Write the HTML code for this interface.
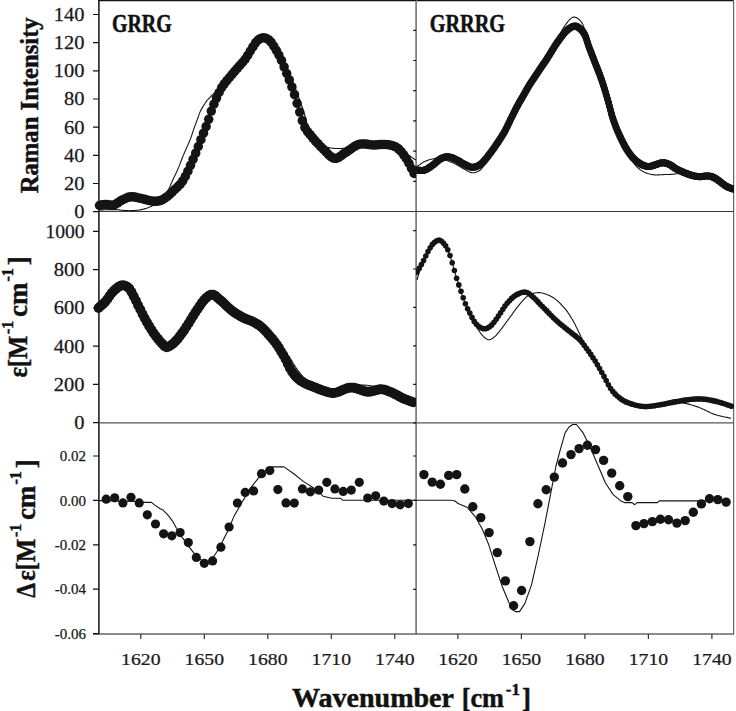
<!DOCTYPE html>
<html><head><meta charset="utf-8"><style>
html,body{margin:0;padding:0;background:#fff;}
body{width:736px;height:711px;overflow:hidden;}
svg{display:block;}
</style></head><body>
<svg width="736" height="711" viewBox="0 0 736 711">
<rect width="736" height="711" fill="#fff"/>
<line x1="98.3" y1="0.6" x2="734" y2="0.6" stroke="#111" stroke-width="1.4"/><line x1="98.9" y1="0" x2="98.9" y2="634.5" stroke="#111" stroke-width="1.5"/><line x1="416.1" y1="0" x2="416.1" y2="634.5" stroke="#7a7a7a" stroke-width="1.7"/><line x1="733.6" y1="0" x2="733.6" y2="634.5" stroke="#666" stroke-width="1.2"/><line x1="99" y1="211.5" x2="734" y2="211.5" stroke="#3a3a3a" stroke-width="1.15"/><line x1="99" y1="422.8" x2="734" y2="422.8" stroke="#555" stroke-width="1.15"/><line x1="93" y1="634" x2="734" y2="634" stroke="#666" stroke-width="1.5"/><path d="M93 211.7H99M93 183.5H99M93 155.4H99M93 127.2H99M93 99.0H99M93 70.8H99M93 42.7H99M93 14.5H99M93 422.7H99M93 384.4H99M93 346.2H99M93 307.9H99M93 269.6H99M93 231.3H99M93 633.6H99M93 589.2H99M93 544.8H99M93 500.4H99M93 456.0H99M413.2 181.3H416M413.2 151.1H416M413.2 120.9H416M413.2 90.7H416M413.2 60.5H416M413.2 30.3H416M413.2 0.1H416M413.2 422.8H416M413.2 384.4H416M413.2 345.9H416M413.2 307.4H416M413.2 269.0H416M413.2 230.6H416M413.2 456.0H416M413.2 500.3H416M413.2 544.8H416M413.2 589.3H416" stroke="#111" stroke-width="1.2" fill="none"/><path d="M140.8 634V639M204.3 634V639M267.8 634V639M331.3 634V639M394.8 634V639M457.9 634V639M521.4 634V639M584.9 634V639M648.4 634V639M711.9 634V639" stroke="#333" stroke-width="1.2" fill="none"/>
<defs><clipPath id="cTL"><rect x="94" y="0" width="322" height="212"/></clipPath><clipPath id="cTR"><rect x="416" y="0" width="318" height="212"/></clipPath><clipPath id="cML"><rect x="94" y="212" width="322" height="211"/></clipPath><clipPath id="cMR"><rect x="416" y="212" width="318" height="211"/></clipPath><clipPath id="cBL"><rect x="94" y="423" width="322" height="211"/></clipPath><clipPath id="cBR"><rect x="416" y="423" width="318" height="211"/></clipPath></defs><g clip-path="url(#cTL)" fill="#141414"><circle cx="99.5" cy="205.5" r="4.75"/><circle cx="102.1" cy="204.8" r="4.75"/><circle cx="104.7" cy="204.4" r="4.75"/><circle cx="107.3" cy="204.6" r="4.75"/><circle cx="109.9" cy="205.1" r="4.75"/><circle cx="112.5" cy="205.3" r="4.75"/><circle cx="115.1" cy="204.5" r="4.75"/><circle cx="117.7" cy="202.8" r="4.75"/><circle cx="120.3" cy="201.0" r="4.75"/><circle cx="122.9" cy="199.7" r="4.75"/><circle cx="125.5" cy="198.4" r="4.75"/><circle cx="128.1" cy="197.3" r="4.75"/><circle cx="130.7" cy="196.8" r="4.75"/><circle cx="133.3" cy="196.8" r="4.75"/><circle cx="135.9" cy="197.3" r="4.75"/><circle cx="138.5" cy="197.9" r="4.75"/><circle cx="141.1" cy="198.5" r="4.75"/><circle cx="143.7" cy="199.1" r="4.75"/><circle cx="146.3" cy="199.8" r="4.75"/><circle cx="148.9" cy="200.4" r="4.75"/><circle cx="151.5" cy="200.9" r="4.75"/><circle cx="154.1" cy="201.3" r="4.75"/><circle cx="156.7" cy="201.3" r="4.75"/><circle cx="159.3" cy="200.8" r="4.75"/><circle cx="161.9" cy="199.9" r="4.75"/><circle cx="164.5" cy="198.5" r="4.75"/><circle cx="167.1" cy="196.7" r="4.75"/><circle cx="169.7" cy="194.5" r="4.75"/><circle cx="172.3" cy="192.0" r="4.75"/><circle cx="174.9" cy="189.4" r="4.75"/><circle cx="177.5" cy="187.0" r="4.75"/><circle cx="180.1" cy="184.4" r="4.75"/><circle cx="182.7" cy="180.9" r="4.75"/><circle cx="185.3" cy="176.4" r="4.75"/><circle cx="187.9" cy="171.2" r="4.75"/><circle cx="190.5" cy="165.3" r="4.75"/><circle cx="193.1" cy="159.3" r="4.75"/><circle cx="195.7" cy="153.2" r="4.75"/><circle cx="198.3" cy="146.5" r="4.75"/><circle cx="200.9" cy="139.7" r="4.75"/><circle cx="203.5" cy="133.2" r="4.75"/><circle cx="206.1" cy="126.6" r="4.75"/><circle cx="208.7" cy="119.3" r="4.75"/><circle cx="211.3" cy="111.1" r="4.75"/><circle cx="213.9" cy="104.2" r="4.75"/><circle cx="216.5" cy="98.1" r="4.75"/><circle cx="219.1" cy="92.5" r="4.75"/><circle cx="221.7" cy="87.6" r="4.75"/><circle cx="224.3" cy="83.8" r="4.75"/><circle cx="226.9" cy="80.6" r="4.75"/><circle cx="229.5" cy="77.5" r="4.75"/><circle cx="232.1" cy="74.3" r="4.75"/><circle cx="234.7" cy="71.3" r="4.75"/><circle cx="237.3" cy="68.3" r="4.75"/><circle cx="239.9" cy="65.4" r="4.75"/><circle cx="242.5" cy="62.5" r="4.75"/><circle cx="245.1" cy="59.3" r="4.75"/><circle cx="247.7" cy="55.4" r="4.75"/><circle cx="250.3" cy="51.0" r="4.75"/><circle cx="252.9" cy="46.9" r="4.75"/><circle cx="255.5" cy="42.8" r="4.75"/><circle cx="258.1" cy="40.0" r="4.75"/><circle cx="260.7" cy="38.4" r="4.75"/><circle cx="263.3" cy="37.7" r="4.75"/><circle cx="265.9" cy="38.2" r="4.75"/><circle cx="268.5" cy="39.7" r="4.75"/><circle cx="271.1" cy="42.2" r="4.75"/><circle cx="273.7" cy="46.0" r="4.75"/><circle cx="276.3" cy="50.3" r="4.75"/><circle cx="278.9" cy="55.0" r="4.75"/><circle cx="281.5" cy="60.4" r="4.75"/><circle cx="284.1" cy="66.9" r="4.75"/><circle cx="286.7" cy="73.5" r="4.75"/><circle cx="289.3" cy="79.9" r="4.75"/><circle cx="291.9" cy="86.9" r="4.75"/><circle cx="294.5" cy="94.7" r="4.75"/><circle cx="297.1" cy="103.3" r="4.75"/><circle cx="299.7" cy="112.1" r="4.75"/><circle cx="302.3" cy="120.7" r="4.75"/><circle cx="304.9" cy="127.6" r="4.75"/><circle cx="307.5" cy="131.6" r="4.75"/><circle cx="310.1" cy="134.7" r="4.75"/><circle cx="312.7" cy="137.8" r="4.75"/><circle cx="315.3" cy="140.8" r="4.75"/><circle cx="317.9" cy="143.7" r="4.75"/><circle cx="320.5" cy="146.5" r="4.75"/><circle cx="323.1" cy="149.0" r="4.75"/><circle cx="325.7" cy="151.6" r="4.75"/><circle cx="328.3" cy="154.3" r="4.75"/><circle cx="330.9" cy="156.7" r="4.75"/><circle cx="333.5" cy="158.2" r="4.75"/><circle cx="336.1" cy="158.5" r="4.75"/><circle cx="338.7" cy="157.5" r="4.75"/><circle cx="341.3" cy="155.7" r="4.75"/><circle cx="343.9" cy="153.7" r="4.75"/><circle cx="346.5" cy="152.0" r="4.75"/><circle cx="349.1" cy="150.2" r="4.75"/><circle cx="351.7" cy="148.4" r="4.75"/><circle cx="354.3" cy="146.6" r="4.75"/><circle cx="356.9" cy="145.2" r="4.75"/><circle cx="359.5" cy="144.2" r="4.75"/><circle cx="362.1" cy="143.9" r="4.75"/><circle cx="364.7" cy="144.0" r="4.75"/><circle cx="367.3" cy="144.3" r="4.75"/><circle cx="369.9" cy="144.7" r="4.75"/><circle cx="372.5" cy="145.0" r="4.75"/><circle cx="375.1" cy="145.0" r="4.75"/><circle cx="377.7" cy="144.8" r="4.75"/><circle cx="380.3" cy="144.5" r="4.75"/><circle cx="382.9" cy="144.4" r="4.75"/><circle cx="385.5" cy="144.4" r="4.75"/><circle cx="388.1" cy="144.7" r="4.75"/><circle cx="390.7" cy="145.2" r="4.75"/><circle cx="393.3" cy="146.0" r="4.75"/><circle cx="395.9" cy="147.0" r="4.75"/><circle cx="398.5" cy="148.8" r="4.75"/><circle cx="401.1" cy="151.5" r="4.75"/><circle cx="403.7" cy="154.8" r="4.75"/><circle cx="406.3" cy="158.7" r="4.75"/><circle cx="408.9" cy="163.2" r="4.75"/><circle cx="411.5" cy="168.5" r="4.75"/><circle cx="414.1" cy="173.4" r="4.75"/></g><path clip-path="url(#cTL)" d="M99.0 210.0L100.1 210.0L101.1 209.9L102.2 209.9L103.3 209.9L104.4 209.8L105.5 209.8L106.6 209.7L107.7 209.7L108.8 209.6L109.8 209.6L110.9 209.6L111.9 209.6L112.9 209.6L113.9 209.6L114.9 209.6L115.8 209.6L117.0 209.7L118.1 209.8L119.2 209.9L120.3 210.0L121.3 210.2L122.4 210.3L123.4 210.4L124.5 210.5L125.6 210.6L126.6 210.6L127.6 210.6L128.6 210.7L129.7 210.7L130.7 210.6L131.8 210.6L132.8 210.6L133.9 210.5L134.9 210.5L135.9 210.4L136.9 210.3L137.8 210.2L139.0 210.0L140.1 209.9L141.2 209.6L142.2 209.4L143.3 209.2L144.3 208.9L145.3 208.6L146.3 208.3L147.4 207.9L148.5 207.5L149.5 207.1L150.5 206.7L151.5 206.2L152.5 205.7L153.5 205.2L154.4 204.6L155.3 204.0L156.2 203.3L157.1 202.7L158.0 202.0L158.9 201.3L159.7 200.6L160.6 199.9L161.4 199.2L162.2 198.4L163.0 197.5L163.6 196.8L164.2 196.0L164.9 195.2L165.5 194.3L166.1 193.4L166.6 192.5L167.2 191.6L167.8 190.7L168.3 189.8L168.8 188.9L169.2 188.0L169.6 187.1L170.1 186.2L170.5 185.3L170.9 184.3L171.2 183.4L171.7 182.4L172.1 181.5L172.5 180.5L172.9 179.6L173.4 178.7L173.8 177.7L174.3 176.8L174.7 175.9L175.2 174.9L175.7 174.0L176.1 173.0L176.6 172.0L177.0 171.0L177.5 170.0L177.9 169.1L178.2 168.3L178.6 167.4L179.0 166.4L179.3 165.5L179.7 164.6L180.1 163.6L180.5 162.6L180.8 161.7L181.2 160.7L181.6 159.7L182.0 158.8L182.3 157.8L182.7 156.8L183.1 155.9L183.5 154.9L183.9 154.0L184.3 153.0L184.7 152.1L185.1 151.1L185.5 150.2L186.0 149.2L186.4 148.3L186.8 147.3L187.2 146.4L187.6 145.4L188.1 144.5L188.5 143.5L188.9 142.6L189.2 141.7L189.6 140.8L190.0 140.0L190.3 139.1L190.7 138.1L191.1 137.0L191.4 136.1L191.8 135.1L192.1 134.1L192.4 133.2L192.7 132.2L193.0 131.3L193.3 130.4L193.7 129.4L194.0 128.5L194.4 127.5L194.7 126.6L195.1 125.6L195.4 124.6L195.8 123.7L196.1 122.7L196.5 121.8L196.8 120.8L197.2 119.9L197.5 119.0L197.9 118.0L198.2 116.9L198.6 115.9L199.0 114.9L199.3 113.9L199.7 112.9L200.1 111.9L200.5 111.0L201.0 109.9L201.6 108.9L202.2 107.9L202.8 106.9L203.4 105.9L204.0 105.0L204.6 104.1L205.1 103.2L205.7 102.3L206.3 101.4L207.0 100.5L207.6 99.8L208.3 99.1L209.0 98.3L209.7 97.6L210.5 96.8L211.3 96.0L212.1 95.2L212.9 94.5L213.7 93.7L214.4 93.0L215.2 92.3L215.9 91.7L216.7 91.0L217.4 90.3L218.2 89.6L219.0 88.9L219.7 88.2L220.5 87.5L221.3 86.7L222.0 86.0L222.7 85.3L223.4 84.5L224.1 83.7L224.8 82.9L225.5 82.1L226.2 81.3L226.9 80.5L227.6 79.7L228.3 78.9L229.0 78.1L229.6 77.3L230.3 76.5L231.0 75.7L231.7 74.9L232.3 74.2L233.0 73.4L233.6 72.6L234.3 71.8L235.0 71.1L235.6 70.3L236.3 69.5L236.9 68.8L237.6 68.0L238.3 67.2L239.0 66.4L239.7 65.6L240.4 64.9L241.1 64.1L241.8 63.3L242.5 62.5L243.2 61.7L243.9 60.9L244.6 60.0L245.2 59.2L245.8 58.3L246.4 57.4L247.0 56.5L247.6 55.6L248.1 54.6L248.7 53.7L249.2 52.8L249.8 51.8L250.4 50.9L250.9 50.0L251.5 49.1L252.1 48.2L252.7 47.2L253.3 46.2L253.9 45.2L254.5 44.2L255.2 43.3L255.8 42.4L256.4 41.6L257.1 40.8L257.8 40.2L258.7 39.5L259.6 38.9L260.6 38.4L261.6 38.0L262.5 37.8L263.5 37.7L264.5 37.8L265.4 38.0L266.4 38.4L267.4 38.9L268.3 39.5L269.2 40.2L269.9 40.8L270.6 41.5L271.2 42.4L271.9 43.2L272.5 44.2L273.1 45.1L273.8 46.1L274.4 47.1L275.0 48.1L275.6 49.1L276.1 50.0L276.7 50.9L277.2 51.8L277.8 52.7L278.3 53.7L278.8 54.6L279.3 55.6L279.9 56.5L280.4 57.5L280.9 58.5L281.4 59.4L281.9 60.4L282.4 61.3L282.9 62.2L283.3 63.2L283.8 64.1L284.3 65.0L284.8 66.0L285.2 66.9L285.7 67.8L286.2 68.8L286.6 69.7L287.1 70.6L287.5 71.6L288.0 72.5L288.5 73.5L289.0 74.4L289.4 75.4L289.9 76.4L290.4 77.3L290.9 78.3L291.3 79.3L291.8 80.2L292.2 81.2L292.7 82.1L293.1 83.1L293.5 84.0L293.9 85.0L294.4 86.0L294.8 87.0L295.2 88.0L295.6 89.0L296.0 90.0L296.3 91.0L296.7 92.0L297.1 93.0L297.5 94.0L297.9 95.0L298.2 96.0L298.6 97.0L299.0 98.0L299.4 99.0L299.7 100.0L300.1 101.0L300.4 102.0L300.8 103.0L301.2 104.0L301.5 105.0L301.8 106.0L302.2 107.0L302.5 108.0L302.8 109.0L303.1 110.0L303.5 111.0L303.8 112.0L304.1 113.0L304.4 114.0L304.7 115.0L305.0 116.0L305.3 117.0L305.6 118.0L305.9 119.1L306.1 120.1L306.4 121.1L306.7 122.1L307.0 123.1L307.3 124.1L307.6 125.0L308.0 126.0L308.4 126.9L308.8 127.9L309.2 128.8L309.6 129.7L310.0 130.6L310.4 131.5L310.9 132.4L311.4 133.3L311.9 134.2L312.5 135.0L313.1 135.9L313.8 136.7L314.5 137.6L315.2 138.5L316.0 139.3L316.7 140.1L317.5 140.9L318.3 141.6L319.2 142.3L320.0 143.0L320.8 143.6L321.6 144.2L322.5 144.7L323.4 145.2L324.2 145.7L325.1 146.2L326.1 146.6L327.0 147.0L328.0 147.3L329.0 147.6L329.9 147.8L330.9 148.0L332.0 148.2L333.1 148.3L334.2 148.4L335.3 148.5L336.4 148.5L337.5 148.5L338.6 148.5L339.7 148.5L340.7 148.5L341.7 148.5L342.6 148.4L343.8 148.3L344.9 148.2L345.9 148.0L346.9 147.8L347.9 147.5L348.9 147.3L350.0 147.0L351.0 146.7L352.0 146.4L353.0 146.0L354.0 145.7L355.1 145.3L356.2 144.9L357.2 144.6L358.4 144.4L359.5 144.2L360.5 144.1L361.4 144.1L362.5 144.1L363.5 144.2L364.5 144.2L365.6 144.3L366.7 144.5L367.7 144.6L368.8 144.7L369.9 144.8L371.0 144.9L372.0 145.0L373.1 145.0L374.2 145.0L375.2 145.0L376.3 144.9L377.4 144.8L378.4 144.8L379.5 144.7L380.6 144.6L381.6 144.5L382.7 144.5L383.7 144.4L384.7 144.4L385.7 144.4L386.7 144.5L387.8 144.6L388.9 144.7L390.0 144.8L391.0 145.0L392.1 145.1L393.1 145.3L394.1 145.6L395.0 145.8L396.0 146.1L396.9 146.5L397.9 147.0L398.9 147.5L399.8 148.2L400.7 148.8L401.5 149.5L402.4 150.2L403.2 150.9L404.0 151.5L404.8 152.2L405.6 152.8L406.4 153.4L407.1 154.1L407.9 154.7L408.7 155.3L409.6 155.9L410.4 156.5L411.4 157.1L412.2 157.7L413.1 158.2L413.8 158.7L415.0 159.4L416.0 160.0" fill="none" stroke="#141414" stroke-width="1.10" stroke-linejoin="round"/><g clip-path="url(#cTR)" fill="#141414"><circle cx="416.5" cy="170.0" r="3.55"/><circle cx="417.5" cy="170.1" r="3.55"/><circle cx="418.5" cy="170.2" r="3.55"/><circle cx="419.5" cy="170.3" r="3.55"/><circle cx="420.5" cy="170.4" r="3.55"/><circle cx="421.5" cy="170.5" r="3.55"/><circle cx="422.5" cy="170.5" r="3.55"/><circle cx="423.5" cy="170.4" r="3.55"/><circle cx="424.5" cy="170.1" r="3.55"/><circle cx="425.5" cy="169.7" r="3.55"/><circle cx="426.5" cy="169.3" r="3.55"/><circle cx="427.5" cy="168.7" r="3.55"/><circle cx="428.5" cy="168.1" r="3.55"/><circle cx="429.5" cy="167.4" r="3.55"/><circle cx="430.5" cy="166.7" r="3.55"/><circle cx="431.5" cy="166.0" r="3.55"/><circle cx="432.5" cy="165.3" r="3.55"/><circle cx="433.5" cy="164.5" r="3.55"/><circle cx="434.5" cy="163.7" r="3.55"/><circle cx="435.5" cy="162.8" r="3.55"/><circle cx="436.5" cy="161.9" r="3.55"/><circle cx="437.5" cy="161.0" r="3.55"/><circle cx="438.5" cy="160.2" r="3.55"/><circle cx="439.5" cy="159.5" r="3.55"/><circle cx="440.5" cy="158.9" r="3.55"/><circle cx="441.5" cy="158.4" r="3.55"/><circle cx="442.5" cy="157.9" r="3.55"/><circle cx="443.5" cy="157.5" r="3.55"/><circle cx="444.5" cy="157.2" r="3.55"/><circle cx="445.5" cy="156.9" r="3.55"/><circle cx="446.5" cy="156.7" r="3.55"/><circle cx="447.5" cy="156.7" r="3.55"/><circle cx="448.5" cy="156.8" r="3.55"/><circle cx="449.5" cy="157.0" r="3.55"/><circle cx="450.5" cy="157.2" r="3.55"/><circle cx="451.5" cy="157.6" r="3.55"/><circle cx="452.5" cy="157.9" r="3.55"/><circle cx="453.5" cy="158.3" r="3.55"/><circle cx="454.5" cy="158.8" r="3.55"/><circle cx="455.5" cy="159.2" r="3.55"/><circle cx="456.5" cy="159.7" r="3.55"/><circle cx="457.5" cy="160.2" r="3.55"/><circle cx="458.5" cy="160.8" r="3.55"/><circle cx="459.5" cy="161.4" r="3.55"/><circle cx="460.5" cy="162.1" r="3.55"/><circle cx="461.5" cy="162.7" r="3.55"/><circle cx="462.5" cy="163.4" r="3.55"/><circle cx="463.5" cy="163.9" r="3.55"/><circle cx="464.5" cy="164.4" r="3.55"/><circle cx="465.5" cy="164.9" r="3.55"/><circle cx="466.5" cy="165.4" r="3.55"/><circle cx="467.5" cy="165.9" r="3.55"/><circle cx="468.5" cy="166.3" r="3.55"/><circle cx="469.5" cy="166.7" r="3.55"/><circle cx="470.5" cy="167.0" r="3.55"/><circle cx="471.5" cy="167.2" r="3.55"/><circle cx="472.5" cy="167.3" r="3.55"/><circle cx="473.5" cy="167.3" r="3.55"/><circle cx="474.5" cy="167.1" r="3.55"/><circle cx="475.5" cy="166.9" r="3.55"/><circle cx="476.5" cy="166.5" r="3.55"/><circle cx="477.5" cy="166.1" r="3.55"/><circle cx="478.5" cy="165.6" r="3.55"/><circle cx="479.5" cy="165.1" r="3.55"/><circle cx="480.5" cy="164.4" r="3.55"/><circle cx="481.5" cy="163.5" r="3.55"/><circle cx="482.5" cy="162.5" r="3.55"/><circle cx="483.5" cy="161.5" r="3.55"/><circle cx="484.5" cy="160.4" r="3.55"/><circle cx="485.5" cy="159.2" r="3.55"/><circle cx="486.5" cy="158.0" r="3.55"/><circle cx="487.5" cy="156.7" r="3.55"/><circle cx="488.5" cy="155.4" r="3.55"/><circle cx="489.5" cy="154.1" r="3.55"/><circle cx="490.5" cy="152.8" r="3.55"/><circle cx="491.5" cy="151.5" r="3.55"/><circle cx="492.5" cy="150.1" r="3.55"/><circle cx="493.5" cy="148.7" r="3.55"/><circle cx="494.5" cy="147.3" r="3.55"/><circle cx="495.5" cy="145.8" r="3.55"/><circle cx="496.5" cy="144.3" r="3.55"/><circle cx="497.5" cy="142.9" r="3.55"/><circle cx="498.5" cy="141.4" r="3.55"/><circle cx="499.5" cy="139.8" r="3.55"/><circle cx="500.5" cy="138.3" r="3.55"/><circle cx="501.5" cy="136.7" r="3.55"/><circle cx="502.5" cy="135.1" r="3.55"/><circle cx="503.5" cy="133.5" r="3.55"/><circle cx="504.5" cy="131.7" r="3.55"/><circle cx="505.5" cy="129.9" r="3.55"/><circle cx="506.5" cy="128.0" r="3.55"/><circle cx="507.5" cy="125.9" r="3.55"/><circle cx="508.5" cy="123.8" r="3.55"/><circle cx="509.5" cy="121.7" r="3.55"/><circle cx="510.5" cy="119.6" r="3.55"/><circle cx="511.5" cy="117.6" r="3.55"/><circle cx="512.5" cy="115.5" r="3.55"/><circle cx="513.5" cy="113.5" r="3.55"/><circle cx="514.5" cy="111.5" r="3.55"/><circle cx="515.5" cy="109.5" r="3.55"/><circle cx="516.5" cy="107.5" r="3.55"/><circle cx="517.5" cy="105.7" r="3.55"/><circle cx="518.5" cy="103.9" r="3.55"/><circle cx="519.5" cy="102.1" r="3.55"/><circle cx="520.5" cy="100.4" r="3.55"/><circle cx="521.5" cy="98.7" r="3.55"/><circle cx="522.5" cy="97.0" r="3.55"/><circle cx="523.5" cy="95.3" r="3.55"/><circle cx="524.5" cy="93.5" r="3.55"/><circle cx="525.5" cy="91.7" r="3.55"/><circle cx="526.5" cy="89.9" r="3.55"/><circle cx="527.5" cy="88.2" r="3.55"/><circle cx="528.5" cy="86.5" r="3.55"/><circle cx="529.5" cy="84.8" r="3.55"/><circle cx="530.5" cy="83.2" r="3.55"/><circle cx="531.5" cy="81.7" r="3.55"/><circle cx="532.5" cy="80.2" r="3.55"/><circle cx="533.5" cy="78.7" r="3.55"/><circle cx="534.5" cy="77.3" r="3.55"/><circle cx="535.5" cy="75.8" r="3.55"/><circle cx="536.5" cy="74.3" r="3.55"/><circle cx="537.5" cy="72.8" r="3.55"/><circle cx="538.5" cy="71.3" r="3.55"/><circle cx="539.5" cy="69.8" r="3.55"/><circle cx="540.5" cy="68.3" r="3.55"/><circle cx="541.5" cy="66.8" r="3.55"/><circle cx="542.5" cy="65.3" r="3.55"/><circle cx="543.5" cy="63.9" r="3.55"/><circle cx="544.5" cy="62.5" r="3.55"/><circle cx="545.5" cy="61.0" r="3.55"/><circle cx="546.5" cy="59.5" r="3.55"/><circle cx="547.5" cy="57.9" r="3.55"/><circle cx="548.5" cy="56.3" r="3.55"/><circle cx="549.5" cy="54.7" r="3.55"/><circle cx="550.5" cy="53.1" r="3.55"/><circle cx="551.5" cy="51.4" r="3.55"/><circle cx="552.5" cy="49.8" r="3.55"/><circle cx="553.5" cy="48.2" r="3.55"/><circle cx="554.5" cy="46.6" r="3.55"/><circle cx="555.5" cy="45.0" r="3.55"/><circle cx="556.5" cy="43.5" r="3.55"/><circle cx="557.5" cy="42.1" r="3.55"/><circle cx="558.5" cy="40.7" r="3.55"/><circle cx="559.5" cy="39.3" r="3.55"/><circle cx="560.5" cy="37.9" r="3.55"/><circle cx="561.5" cy="36.5" r="3.55"/><circle cx="562.5" cy="35.2" r="3.55"/><circle cx="563.5" cy="33.9" r="3.55"/><circle cx="564.5" cy="32.7" r="3.55"/><circle cx="565.5" cy="31.7" r="3.55"/><circle cx="566.5" cy="30.7" r="3.55"/><circle cx="567.5" cy="29.9" r="3.55"/><circle cx="568.5" cy="29.1" r="3.55"/><circle cx="569.5" cy="28.3" r="3.55"/><circle cx="570.5" cy="27.7" r="3.55"/><circle cx="571.5" cy="27.1" r="3.55"/><circle cx="572.5" cy="26.6" r="3.55"/><circle cx="573.5" cy="26.3" r="3.55"/><circle cx="574.5" cy="26.1" r="3.55"/><circle cx="575.5" cy="26.1" r="3.55"/><circle cx="576.5" cy="26.4" r="3.55"/><circle cx="577.5" cy="26.9" r="3.55"/><circle cx="578.5" cy="27.5" r="3.55"/><circle cx="579.5" cy="28.2" r="3.55"/><circle cx="580.5" cy="29.1" r="3.55"/><circle cx="581.5" cy="30.1" r="3.55"/><circle cx="582.5" cy="31.3" r="3.55"/><circle cx="583.5" cy="32.5" r="3.55"/><circle cx="584.5" cy="34.2" r="3.55"/><circle cx="585.5" cy="36.3" r="3.55"/><circle cx="586.5" cy="39.2" r="3.55"/><circle cx="587.5" cy="42.4" r="3.55"/><circle cx="588.5" cy="45.5" r="3.55"/><circle cx="589.5" cy="48.2" r="3.55"/><circle cx="590.5" cy="50.8" r="3.55"/><circle cx="591.5" cy="53.4" r="3.55"/><circle cx="592.5" cy="56.0" r="3.55"/><circle cx="593.5" cy="58.6" r="3.55"/><circle cx="594.5" cy="61.2" r="3.55"/><circle cx="595.5" cy="63.8" r="3.55"/><circle cx="596.5" cy="66.3" r="3.55"/><circle cx="597.5" cy="68.9" r="3.55"/><circle cx="598.5" cy="71.4" r="3.55"/><circle cx="599.5" cy="74.0" r="3.55"/><circle cx="600.5" cy="76.8" r="3.55"/><circle cx="601.5" cy="79.6" r="3.55"/><circle cx="602.5" cy="82.5" r="3.55"/><circle cx="603.5" cy="85.6" r="3.55"/><circle cx="604.5" cy="88.7" r="3.55"/><circle cx="605.5" cy="92.0" r="3.55"/><circle cx="606.5" cy="95.5" r="3.55"/><circle cx="607.5" cy="99.0" r="3.55"/><circle cx="608.5" cy="102.6" r="3.55"/><circle cx="609.5" cy="106.2" r="3.55"/><circle cx="610.5" cy="110.0" r="3.55"/><circle cx="611.5" cy="113.9" r="3.55"/><circle cx="612.5" cy="117.3" r="3.55"/><circle cx="613.5" cy="120.2" r="3.55"/><circle cx="614.5" cy="123.0" r="3.55"/><circle cx="615.5" cy="125.7" r="3.55"/><circle cx="616.5" cy="128.3" r="3.55"/><circle cx="617.5" cy="130.7" r="3.55"/><circle cx="618.5" cy="133.1" r="3.55"/><circle cx="619.5" cy="135.3" r="3.55"/><circle cx="620.5" cy="137.4" r="3.55"/><circle cx="621.5" cy="139.5" r="3.55"/><circle cx="622.5" cy="141.5" r="3.55"/><circle cx="623.5" cy="143.5" r="3.55"/><circle cx="624.5" cy="145.4" r="3.55"/><circle cx="625.5" cy="147.2" r="3.55"/><circle cx="626.5" cy="148.9" r="3.55"/><circle cx="627.5" cy="150.6" r="3.55"/><circle cx="628.5" cy="152.1" r="3.55"/><circle cx="629.5" cy="153.5" r="3.55"/><circle cx="630.5" cy="154.8" r="3.55"/><circle cx="631.5" cy="156.0" r="3.55"/><circle cx="632.5" cy="157.2" r="3.55"/><circle cx="633.5" cy="158.2" r="3.55"/><circle cx="634.5" cy="159.3" r="3.55"/><circle cx="635.5" cy="160.2" r="3.55"/><circle cx="636.5" cy="161.1" r="3.55"/><circle cx="637.5" cy="161.9" r="3.55"/><circle cx="638.5" cy="162.6" r="3.55"/><circle cx="639.5" cy="163.3" r="3.55"/><circle cx="640.5" cy="163.9" r="3.55"/><circle cx="641.5" cy="164.4" r="3.55"/><circle cx="642.5" cy="165.0" r="3.55"/><circle cx="643.5" cy="165.4" r="3.55"/><circle cx="644.5" cy="165.8" r="3.55"/><circle cx="645.5" cy="166.1" r="3.55"/><circle cx="646.5" cy="166.3" r="3.55"/><circle cx="647.5" cy="166.5" r="3.55"/><circle cx="648.5" cy="166.5" r="3.55"/><circle cx="649.5" cy="166.5" r="3.55"/><circle cx="650.5" cy="166.3" r="3.55"/><circle cx="651.5" cy="166.1" r="3.55"/><circle cx="652.5" cy="165.8" r="3.55"/><circle cx="653.5" cy="165.4" r="3.55"/><circle cx="654.5" cy="165.1" r="3.55"/><circle cx="655.5" cy="164.7" r="3.55"/><circle cx="656.5" cy="164.4" r="3.55"/><circle cx="657.5" cy="164.0" r="3.55"/><circle cx="658.5" cy="163.7" r="3.55"/><circle cx="659.5" cy="163.4" r="3.55"/><circle cx="660.5" cy="163.1" r="3.55"/><circle cx="661.5" cy="162.9" r="3.55"/><circle cx="662.5" cy="162.8" r="3.55"/><circle cx="663.5" cy="162.8" r="3.55"/><circle cx="664.5" cy="162.9" r="3.55"/><circle cx="665.5" cy="163.1" r="3.55"/><circle cx="666.5" cy="163.4" r="3.55"/><circle cx="667.5" cy="163.7" r="3.55"/><circle cx="668.5" cy="164.1" r="3.55"/><circle cx="669.5" cy="164.6" r="3.55"/><circle cx="670.5" cy="165.0" r="3.55"/><circle cx="671.5" cy="165.6" r="3.55"/><circle cx="672.5" cy="166.4" r="3.55"/><circle cx="673.5" cy="167.1" r="3.55"/><circle cx="674.5" cy="167.8" r="3.55"/><circle cx="675.5" cy="168.5" r="3.55"/><circle cx="676.5" cy="169.0" r="3.55"/><circle cx="677.5" cy="169.5" r="3.55"/><circle cx="678.5" cy="170.0" r="3.55"/><circle cx="679.5" cy="170.5" r="3.55"/><circle cx="680.5" cy="171.0" r="3.55"/><circle cx="681.5" cy="171.4" r="3.55"/><circle cx="682.5" cy="171.9" r="3.55"/><circle cx="683.5" cy="172.3" r="3.55"/><circle cx="684.5" cy="172.7" r="3.55"/><circle cx="685.5" cy="173.1" r="3.55"/><circle cx="686.5" cy="173.5" r="3.55"/><circle cx="687.5" cy="173.9" r="3.55"/><circle cx="688.5" cy="174.2" r="3.55"/><circle cx="689.5" cy="174.6" r="3.55"/><circle cx="690.5" cy="174.9" r="3.55"/><circle cx="691.5" cy="175.3" r="3.55"/><circle cx="692.5" cy="175.6" r="3.55"/><circle cx="693.5" cy="175.8" r="3.55"/><circle cx="694.5" cy="176.1" r="3.55"/><circle cx="695.5" cy="176.3" r="3.55"/><circle cx="696.5" cy="176.4" r="3.55"/><circle cx="697.5" cy="176.5" r="3.55"/><circle cx="698.5" cy="176.6" r="3.55"/><circle cx="699.5" cy="176.7" r="3.55"/><circle cx="700.5" cy="176.7" r="3.55"/><circle cx="701.5" cy="176.6" r="3.55"/><circle cx="702.5" cy="176.5" r="3.55"/><circle cx="703.5" cy="176.3" r="3.55"/><circle cx="704.5" cy="176.1" r="3.55"/><circle cx="705.5" cy="176.0" r="3.55"/><circle cx="706.5" cy="176.0" r="3.55"/><circle cx="707.5" cy="176.0" r="3.55"/><circle cx="708.5" cy="176.0" r="3.55"/><circle cx="709.5" cy="176.1" r="3.55"/><circle cx="710.5" cy="176.3" r="3.55"/><circle cx="711.5" cy="176.6" r="3.55"/><circle cx="712.5" cy="176.9" r="3.55"/><circle cx="713.5" cy="177.4" r="3.55"/><circle cx="714.5" cy="177.9" r="3.55"/><circle cx="715.5" cy="178.4" r="3.55"/><circle cx="716.5" cy="179.0" r="3.55"/><circle cx="717.5" cy="179.7" r="3.55"/><circle cx="718.5" cy="180.4" r="3.55"/><circle cx="719.5" cy="181.2" r="3.55"/><circle cx="720.5" cy="182.1" r="3.55"/><circle cx="721.5" cy="182.8" r="3.55"/><circle cx="722.5" cy="183.6" r="3.55"/><circle cx="723.5" cy="184.3" r="3.55"/><circle cx="724.5" cy="185.0" r="3.55"/><circle cx="725.5" cy="185.7" r="3.55"/><circle cx="726.5" cy="186.3" r="3.55"/><circle cx="727.5" cy="186.9" r="3.55"/><circle cx="728.5" cy="187.3" r="3.55"/><circle cx="729.5" cy="187.7" r="3.55"/><circle cx="730.5" cy="188.1" r="3.55"/><circle cx="731.5" cy="188.5" r="3.55"/><circle cx="732.5" cy="188.8" r="3.55"/><circle cx="733.5" cy="189.2" r="3.55"/></g><path clip-path="url(#cTR)" d="M416.5 167.0L417.3 166.4L418.1 165.8L418.9 165.2L419.8 164.6L420.6 164.0L421.4 163.4L422.2 162.9L423.2 162.3L424.2 161.8L425.3 161.3L426.3 160.8L427.3 160.4L428.3 160.1L429.2 159.8L430.2 159.5L431.2 159.2L432.3 159.0L433.3 158.8L434.4 158.5L435.5 158.2L436.6 158.0L437.8 157.8L438.9 157.8L440.0 157.8L441.0 158.0L442.0 158.3L443.0 158.7L444.1 159.1L445.1 159.6L446.1 160.1L447.1 160.6L448.1 161.0L449.1 161.4L450.2 161.8L451.2 162.2L452.2 162.6L453.2 163.0L454.3 163.5L455.3 163.9L456.3 164.4L457.2 164.9L458.1 165.4L459.0 166.0L459.9 166.6L460.8 167.1L461.7 167.7L462.6 168.3L463.5 168.8L464.4 169.3L465.4 169.8L466.4 170.4L467.5 171.0L468.5 171.5L469.6 172.0L470.6 172.4L471.6 172.7L472.6 172.8L473.7 172.8L474.9 172.6L476.0 172.2L477.1 171.8L478.2 171.3L479.1 170.8L480.0 170.2L480.8 169.5L481.5 168.8L482.2 168.0L483.0 167.0L483.5 166.3L484.0 165.5L484.5 164.7L485.0 163.8L485.5 162.9L486.1 161.9L486.6 160.9L487.1 159.9L487.6 158.9L488.2 157.9L488.7 156.9L489.3 156.0L489.8 155.2L490.3 154.3L490.9 153.5L491.4 152.6L492.0 151.8L492.5 150.9L493.1 150.1L493.7 149.2L494.2 148.3L494.8 147.5L495.3 146.6L495.9 145.7L496.5 144.9L497.0 144.0L497.5 143.2L498.1 142.3L498.6 141.4L499.1 140.6L499.7 139.7L500.2 138.8L500.7 138.0L501.3 137.1L501.8 136.2L502.3 135.4L502.8 134.5L503.3 133.6L503.8 132.7L504.3 131.9L504.8 131.0L505.3 130.0L505.8 129.1L506.3 128.1L506.8 127.2L507.2 126.2L507.7 125.2L508.2 124.3L508.6 123.3L509.1 122.3L509.5 121.4L510.0 120.4L510.4 119.5L510.9 118.5L511.4 117.5L511.8 116.6L512.3 115.6L512.8 114.6L513.3 113.6L513.7 112.7L514.2 111.7L514.7 110.7L515.2 109.8L515.6 108.8L516.1 107.9L516.6 106.9L517.1 106.0L517.6 105.1L518.1 104.1L518.6 103.2L519.1 102.3L519.7 101.4L520.2 100.4L520.7 99.5L521.2 98.6L521.7 97.7L522.3 96.8L522.8 95.9L523.3 95.0L523.8 94.1L524.3 93.2L524.8 92.2L525.4 91.3L525.9 90.4L526.4 89.4L526.9 88.5L527.4 87.6L527.9 86.7L528.4 85.8L529.0 84.9L529.5 84.0L530.1 83.1L530.6 82.2L531.2 81.3L531.7 80.5L532.3 79.6L532.9 78.8L533.4 77.9L534.0 77.1L534.6 76.2L535.1 75.4L535.7 74.5L536.3 73.6L536.8 72.7L537.4 71.9L538.0 71.0L538.6 70.1L539.1 69.2L539.7 68.3L540.3 67.5L540.8 66.6L541.4 65.8L541.9 65.0L542.6 64.0L543.2 63.2L543.8 62.3L544.5 61.5L545.1 60.6L545.8 59.6L546.5 58.5L546.9 57.8L547.4 57.1L547.8 56.4L548.3 55.6L548.8 54.7L549.4 53.9L549.9 53.0L550.4 52.1L551.0 51.1L551.5 50.2L552.1 49.3L552.6 48.3L553.2 47.3L553.7 46.4L554.3 45.4L554.8 44.5L555.3 43.5L555.8 42.6L556.3 41.7L556.8 40.8L557.3 40.0L557.8 39.0L558.3 38.1L558.8 37.1L559.3 36.1L559.7 35.2L560.2 34.2L560.6 33.3L561.1 32.3L561.5 31.4L562.0 30.5L562.5 29.6L562.9 28.7L563.4 27.9L563.9 27.1L564.5 26.3L565.0 25.5L565.7 24.6L566.3 23.7L567.0 22.8L567.7 21.9L568.4 21.0L569.2 20.1L569.9 19.4L570.7 18.7L571.4 18.1L572.1 17.6L572.9 17.3L573.6 17.1L574.5 17.1L575.5 17.3L576.5 17.7L577.4 18.2L578.4 18.9L579.3 19.7L580.2 20.6L581.0 21.5L581.5 22.1L581.9 22.8L582.3 23.5L582.7 24.3L583.1 25.2L583.5 26.1L583.9 27.1L584.2 28.1L584.6 29.1L584.9 30.2L585.3 31.3L585.6 32.4L585.9 33.5L586.2 34.6L586.5 35.8L586.8 36.9L587.1 38.0L587.4 39.1L587.8 40.1L588.1 41.2L588.4 42.1L588.7 43.1L589.0 44.0L589.4 45.0L589.7 46.0L590.1 47.0L590.5 48.0L590.8 48.9L591.2 49.9L591.5 50.8L591.8 51.7L592.2 52.6L592.5 53.5L592.9 54.4L593.2 55.3L593.6 56.2L593.9 57.1L594.2 58.1L594.6 59.0L595.0 59.9L595.3 60.9L595.7 61.8L596.0 62.8L596.4 63.7L596.8 64.6L597.1 65.6L597.5 66.5L597.9 67.5L598.2 68.4L598.6 69.3L598.9 70.3L599.3 71.2L599.6 72.1L600.0 73.1L600.3 74.0L600.7 75.0L601.0 76.0L601.3 77.0L601.7 78.0L602.0 79.0L602.3 80.0L602.6 81.0L602.9 82.0L603.2 83.0L603.6 84.0L603.9 85.0L604.2 86.0L604.5 87.0L604.8 88.0L605.1 89.0L605.4 90.0L605.7 91.0L606.0 92.0L606.3 93.0L606.6 94.1L606.9 95.1L607.2 96.1L607.5 97.1L607.8 98.2L608.1 99.2L608.4 100.1L608.7 101.1L609.0 102.1L609.3 103.0L609.6 104.1L609.9 105.1L610.3 106.0L610.6 107.0L610.9 107.9L611.2 108.9L611.5 109.8L611.8 110.8L612.2 111.8L612.5 112.9L612.9 114.0L613.2 114.8L613.5 115.7L613.8 116.5L614.0 117.4L614.4 118.3L614.7 119.3L615.0 120.2L615.3 121.2L615.6 122.2L616.0 123.1L616.3 124.1L616.6 125.1L617.0 126.1L617.3 127.1L617.7 128.2L618.1 129.2L618.4 130.2L618.8 131.1L619.2 132.1L619.5 133.1L619.9 134.1L620.3 135.0L620.7 135.9L621.1 136.9L621.5 137.8L621.9 138.8L622.3 139.8L622.8 140.7L623.2 141.7L623.6 142.7L624.1 143.6L624.5 144.6L625.0 145.5L625.4 146.5L625.8 147.4L626.3 148.3L626.7 149.2L627.2 150.1L627.6 151.0L628.0 151.8L628.4 152.7L628.8 153.5L629.2 154.2L629.6 155.0L630.1 156.0L630.6 157.0L631.1 158.0L631.5 158.9L632.0 159.8L632.4 160.7L632.9 161.5L633.3 162.4L633.9 163.2L634.4 163.9L635.0 164.7L635.7 165.5L636.4 166.3L637.1 167.0L637.9 167.8L638.7 168.5L639.5 169.2L640.3 169.8L641.2 170.4L642.1 171.0L643.0 171.5L643.9 172.0L644.8 172.4L645.7 172.8L646.7 173.1L647.6 173.5L648.6 173.8L649.6 174.0L650.6 174.3L651.6 174.5L652.6 174.6L653.6 174.8L654.6 174.9L655.7 175.0L656.8 175.0L657.9 174.9L659.0 174.9L660.1 174.8L661.2 174.7L662.2 174.7L663.2 174.6L664.1 174.5L665.0 174.5L666.1 174.5L667.1 174.5L668.0 174.5L669.0 174.5L670.0 174.5L670.9 174.4L672.0 174.3L673.0 174.2L674.1 174.1L675.2 174.0L676.3 173.8L677.2 173.7L678.1 173.5L679.4 173.1L680.5 172.7L681.7 172.5L682.6 172.6L683.6 172.9L684.7 173.3L685.8 173.7L686.8 174.1L687.9 174.5L688.9 174.8L690.0 175.2L691.0 175.5L692.1 175.8L693.1 176.1L694.2 176.3L695.2 176.5L696.3 176.7L697.4 176.8L698.4 176.9L699.5 177.0L700.5 177.0L701.6 177.0L702.7 176.8L703.8 176.7L704.8 176.6L705.9 176.5L707.0 176.5L708.1 176.5L709.2 176.6L710.2 176.8L711.3 177.0L712.4 177.4L713.5 177.8L714.5 178.3L715.6 178.9L716.6 179.5L717.5 180.1L718.4 180.7L719.3 181.4L720.2 182.1L721.1 182.8L722.0 183.5L722.9 184.1L723.8 184.7L724.7 185.3L725.5 185.9L726.5 186.5L727.4 187.0L728.4 187.5L729.4 187.9L730.4 188.3L731.4 188.6L732.5 189.0L733.5 189.4" fill="none" stroke="#141414" stroke-width="1.10" stroke-linejoin="round"/><g clip-path="url(#cML)" fill="#141414"><circle cx="98.5" cy="308.0" r="4.95"/><circle cx="100.7" cy="306.1" r="4.95"/><circle cx="102.9" cy="304.3" r="4.95"/><circle cx="105.1" cy="302.1" r="4.95"/><circle cx="107.3" cy="299.2" r="4.95"/><circle cx="109.5" cy="296.0" r="4.95"/><circle cx="111.7" cy="293.1" r="4.95"/><circle cx="113.9" cy="290.8" r="4.95"/><circle cx="116.1" cy="288.8" r="4.95"/><circle cx="118.3" cy="287.0" r="4.95"/><circle cx="120.5" cy="285.7" r="4.95"/><circle cx="122.7" cy="285.2" r="4.95"/><circle cx="124.9" cy="285.6" r="4.95"/><circle cx="127.1" cy="286.7" r="4.95"/><circle cx="129.3" cy="288.6" r="4.95"/><circle cx="131.5" cy="292.1" r="4.95"/><circle cx="133.7" cy="296.3" r="4.95"/><circle cx="135.9" cy="300.6" r="4.95"/><circle cx="138.1" cy="305.2" r="4.95"/><circle cx="140.3" cy="309.6" r="4.95"/><circle cx="142.5" cy="314.0" r="4.95"/><circle cx="144.7" cy="318.2" r="4.95"/><circle cx="146.9" cy="322.3" r="4.95"/><circle cx="149.1" cy="326.1" r="4.95"/><circle cx="151.3" cy="329.6" r="4.95"/><circle cx="153.5" cy="333.0" r="4.95"/><circle cx="155.7" cy="336.0" r="4.95"/><circle cx="157.9" cy="338.8" r="4.95"/><circle cx="160.1" cy="341.4" r="4.95"/><circle cx="162.3" cy="343.7" r="4.95"/><circle cx="164.5" cy="346.2" r="4.95"/><circle cx="166.7" cy="347.3" r="4.95"/><circle cx="168.9" cy="346.6" r="4.95"/><circle cx="171.1" cy="345.1" r="4.95"/><circle cx="173.3" cy="343.4" r="4.95"/><circle cx="175.5" cy="341.3" r="4.95"/><circle cx="177.7" cy="338.9" r="4.95"/><circle cx="179.9" cy="336.1" r="4.95"/><circle cx="182.1" cy="333.1" r="4.95"/><circle cx="184.3" cy="329.9" r="4.95"/><circle cx="186.5" cy="326.6" r="4.95"/><circle cx="188.7" cy="323.2" r="4.95"/><circle cx="190.9" cy="319.6" r="4.95"/><circle cx="193.1" cy="316.1" r="4.95"/><circle cx="195.3" cy="312.5" r="4.95"/><circle cx="197.5" cy="309.2" r="4.95"/><circle cx="199.7" cy="305.9" r="4.95"/><circle cx="201.9" cy="302.7" r="4.95"/><circle cx="204.1" cy="299.9" r="4.95"/><circle cx="206.3" cy="297.8" r="4.95"/><circle cx="208.5" cy="296.0" r="4.95"/><circle cx="210.7" cy="294.7" r="4.95"/><circle cx="212.9" cy="294.6" r="4.95"/><circle cx="215.1" cy="295.6" r="4.95"/><circle cx="217.3" cy="297.4" r="4.95"/><circle cx="219.5" cy="299.4" r="4.95"/><circle cx="221.7" cy="301.3" r="4.95"/><circle cx="223.9" cy="303.3" r="4.95"/><circle cx="226.1" cy="305.5" r="4.95"/><circle cx="228.3" cy="307.6" r="4.95"/><circle cx="230.5" cy="309.5" r="4.95"/><circle cx="232.7" cy="311.2" r="4.95"/><circle cx="234.9" cy="312.7" r="4.95"/><circle cx="237.1" cy="314.2" r="4.95"/><circle cx="239.3" cy="315.5" r="4.95"/><circle cx="241.5" cy="316.8" r="4.95"/><circle cx="243.7" cy="317.9" r="4.95"/><circle cx="245.9" cy="318.9" r="4.95"/><circle cx="248.1" cy="319.7" r="4.95"/><circle cx="250.3" cy="320.6" r="4.95"/><circle cx="252.5" cy="321.5" r="4.95"/><circle cx="254.7" cy="322.6" r="4.95"/><circle cx="256.9" cy="323.9" r="4.95"/><circle cx="259.1" cy="325.3" r="4.95"/><circle cx="261.3" cy="326.9" r="4.95"/><circle cx="263.5" cy="328.9" r="4.95"/><circle cx="265.7" cy="331.3" r="4.95"/><circle cx="267.9" cy="333.8" r="4.95"/><circle cx="270.1" cy="336.2" r="4.95"/><circle cx="272.3" cy="338.7" r="4.95"/><circle cx="274.5" cy="341.4" r="4.95"/><circle cx="276.7" cy="344.4" r="4.95"/><circle cx="278.9" cy="347.8" r="4.95"/><circle cx="281.1" cy="351.4" r="4.95"/><circle cx="283.3" cy="355.1" r="4.95"/><circle cx="285.5" cy="359.1" r="4.95"/><circle cx="287.7" cy="363.7" r="4.95"/><circle cx="289.9" cy="368.2" r="4.95"/><circle cx="292.1" cy="371.7" r="4.95"/><circle cx="294.3" cy="374.7" r="4.95"/><circle cx="296.5" cy="377.2" r="4.95"/><circle cx="298.7" cy="379.2" r="4.95"/><circle cx="300.9" cy="380.9" r="4.95"/><circle cx="303.1" cy="382.3" r="4.95"/><circle cx="305.3" cy="383.6" r="4.95"/><circle cx="307.5" cy="384.6" r="4.95"/><circle cx="309.7" cy="385.4" r="4.95"/><circle cx="311.9" cy="386.2" r="4.95"/><circle cx="314.1" cy="387.1" r="4.95"/><circle cx="316.3" cy="388.0" r="4.95"/><circle cx="318.5" cy="388.9" r="4.95"/><circle cx="320.7" cy="389.8" r="4.95"/><circle cx="322.9" cy="390.6" r="4.95"/><circle cx="325.1" cy="391.3" r="4.95"/><circle cx="327.3" cy="392.0" r="4.95"/><circle cx="329.5" cy="392.6" r="4.95"/><circle cx="331.7" cy="393.0" r="4.95"/><circle cx="333.9" cy="393.0" r="4.95"/><circle cx="336.1" cy="392.6" r="4.95"/><circle cx="338.3" cy="391.9" r="4.95"/><circle cx="340.5" cy="391.0" r="4.95"/><circle cx="342.7" cy="390.0" r="4.95"/><circle cx="344.9" cy="389.1" r="4.95"/><circle cx="347.1" cy="388.3" r="4.95"/><circle cx="349.3" cy="387.8" r="4.95"/><circle cx="351.5" cy="387.6" r="4.95"/><circle cx="353.7" cy="387.8" r="4.95"/><circle cx="355.9" cy="388.3" r="4.95"/><circle cx="358.1" cy="389.0" r="4.95"/><circle cx="360.3" cy="389.8" r="4.95"/><circle cx="362.5" cy="390.6" r="4.95"/><circle cx="364.7" cy="391.3" r="4.95"/><circle cx="366.9" cy="391.7" r="4.95"/><circle cx="369.1" cy="391.8" r="4.95"/><circle cx="371.3" cy="391.5" r="4.95"/><circle cx="373.5" cy="390.9" r="4.95"/><circle cx="375.7" cy="390.3" r="4.95"/><circle cx="377.9" cy="389.7" r="4.95"/><circle cx="380.1" cy="389.3" r="4.95"/><circle cx="382.3" cy="389.4" r="4.95"/><circle cx="384.5" cy="389.8" r="4.95"/><circle cx="386.7" cy="390.5" r="4.95"/><circle cx="388.9" cy="391.4" r="4.95"/><circle cx="391.1" cy="392.3" r="4.95"/><circle cx="393.3" cy="393.3" r="4.95"/><circle cx="395.5" cy="394.4" r="4.95"/><circle cx="397.7" cy="395.5" r="4.95"/><circle cx="399.9" cy="396.7" r="4.95"/><circle cx="402.1" cy="397.9" r="4.95"/><circle cx="404.3" cy="398.9" r="4.95"/><circle cx="406.5" cy="399.8" r="4.95"/><circle cx="408.7" cy="400.6" r="4.95"/><circle cx="410.9" cy="401.4" r="4.95"/><circle cx="413.1" cy="402.2" r="4.95"/></g><path clip-path="url(#cML)" d="M98.5 304.0L99.3 303.3L100.1 302.7L100.8 302.0L101.6 301.3L102.4 300.7L103.2 300.0L104.0 299.3L104.8 298.5L105.5 297.8L106.2 297.0L106.9 296.2L107.6 295.4L108.3 294.6L109.1 293.7L109.8 292.9L110.6 292.1L111.3 291.4L112.1 290.6L112.9 290.0L113.7 289.4L114.6 288.7L115.5 288.0L116.4 287.4L117.3 286.8L118.3 286.3L119.2 285.8L120.1 285.5L121.0 285.3L121.9 285.3L122.7 285.4L123.6 285.7L124.4 286.1L125.3 286.6L126.1 287.2L127.0 287.8L127.8 288.6L128.6 289.3L129.4 290.1L130.2 291.0L130.9 291.8L131.5 292.5L132.0 293.2L132.5 294.0L133.1 294.9L133.5 295.7L134.0 296.6L134.5 297.6L135.0 298.5L135.4 299.5L135.8 300.5L136.3 301.5L136.7 302.5L137.2 303.4L137.6 304.4L138.1 305.4L138.5 306.4L139.0 307.3L139.5 308.2L139.9 309.1L140.4 310.0L140.8 310.9L141.2 311.8L141.7 312.7L142.1 313.7L142.6 314.6L143.0 315.5L143.4 316.4L143.9 317.3L144.3 318.3L144.8 319.2L145.3 320.1L145.7 321.0L146.2 321.8L146.7 322.7L147.2 323.6L147.7 324.5L148.3 325.4L148.8 326.3L149.4 327.3L149.9 328.2L150.5 329.1L151.1 330.0L151.6 330.9L152.2 331.8L152.8 332.7L153.4 333.6L154.0 334.4L154.6 335.2L155.2 336.0L155.8 336.8L156.4 337.6L157.0 338.3L157.7 339.1L158.4 340.0L159.2 340.9L159.9 341.8L160.6 342.6L161.3 343.4L162.1 344.2L162.8 344.9L163.6 345.4L164.4 345.9L165.1 346.2L165.9 346.4L166.8 346.4L167.7 346.3L168.6 346.0L169.5 345.5L170.4 345.0L171.3 344.4L172.2 343.7L173.1 343.0L174.0 342.2L174.9 341.5L175.6 340.9L176.2 340.3L176.9 339.6L177.5 338.9L178.1 338.2L178.8 337.4L179.4 336.6L180.1 335.8L180.7 334.9L181.3 334.0L182.0 333.2L182.6 332.3L183.2 331.4L183.8 330.5L184.5 329.6L185.1 328.7L185.7 327.8L186.3 326.9L186.9 326.1L187.4 325.3L188.0 324.4L188.5 323.5L189.1 322.7L189.7 321.8L190.2 320.9L190.8 320.0L191.3 319.1L191.9 318.2L192.4 317.3L193.0 316.4L193.5 315.5L194.0 314.6L194.6 313.7L195.1 312.9L195.6 312.0L196.2 311.2L196.7 310.4L197.2 309.6L197.7 308.9L198.4 307.9L199.0 306.9L199.7 305.9L200.3 305.0L201.0 304.0L201.6 303.1L202.2 302.3L202.9 301.4L203.5 300.6L204.2 299.9L204.8 299.1L205.5 298.5L206.4 297.7L207.4 296.9L208.3 296.1L209.3 295.5L210.3 294.9L211.3 294.6L212.3 294.5L213.2 294.6L214.0 294.9L214.9 295.3L215.8 295.8L216.7 296.5L217.6 297.2L218.6 297.9L219.5 298.6L220.4 299.3L221.3 300.0L222.1 300.6L222.9 301.2L223.7 301.9L224.5 302.6L225.3 303.2L226.1 303.9L226.9 304.6L227.7 305.3L228.6 306.0L229.4 306.7L230.2 307.4L231.1 308.0L231.9 308.6L232.8 309.2L233.6 309.7L234.5 310.3L235.4 310.9L236.2 311.4L237.1 312.0L238.0 312.5L238.9 313.0L239.8 313.5L240.7 314.0L241.6 314.5L242.5 315.0L243.4 315.5L244.4 315.9L245.4 316.3L246.4 316.7L247.3 317.1L248.3 317.5L249.3 317.9L250.3 318.3L251.2 318.7L252.1 319.1L253.0 319.5L253.9 320.0L254.9 320.6L255.9 321.1L256.8 321.7L257.7 322.3L258.6 322.9L259.5 323.5L260.4 324.2L261.2 324.8L262.0 325.5L262.8 326.2L263.6 327.0L264.4 327.8L265.1 328.6L265.8 329.4L266.5 330.3L267.3 331.1L268.0 332.0L268.7 332.8L269.4 333.5L270.0 334.3L270.7 335.1L271.4 335.9L272.1 336.8L272.8 337.6L273.5 338.4L274.1 339.2L274.8 340.0L275.5 340.8L276.1 341.7L276.8 342.5L277.4 343.3L278.0 344.1L278.6 344.9L279.3 345.8L280.0 346.6L280.7 347.5L281.3 348.2L282.0 349.0L282.7 349.8L283.4 350.5L284.1 351.3L284.9 352.1L285.6 352.9L286.3 353.7L287.0 354.5L287.7 355.3L288.4 356.1L289.0 356.8L289.6 357.6L290.2 358.5L290.8 359.4L291.4 360.3L291.9 361.1L292.4 362.0L292.9 362.9L293.4 363.7L294.0 364.6L294.5 365.4L295.1 366.3L295.7 367.2L296.3 368.1L296.9 368.9L297.5 369.8L298.1 370.6L298.8 371.5L299.4 372.3L300.1 373.2L300.7 374.0L301.4 374.9L302.1 375.7L302.8 376.6L303.5 377.4L304.4 378.2L305.1 378.9L305.9 379.5L306.8 380.2L307.6 380.8L308.5 381.5L309.5 382.1L310.4 382.7L311.4 383.4L312.3 383.9L313.3 384.5L314.2 385.0L315.2 385.5L316.1 386.0L317.1 386.4L318.1 386.9L319.1 387.3L320.1 387.7L321.1 388.0L322.1 388.4L323.1 388.7L324.1 389.0L325.1 389.3L326.0 389.6L326.9 389.9L327.9 390.2L328.8 390.4L329.8 390.6L330.8 390.8L331.8 390.9L332.8 391.0L333.9 391.0L334.8 390.9L335.7 390.8L336.7 390.7L337.7 390.4L338.8 390.2L339.8 389.9L340.9 389.6L342.0 389.3L343.1 388.9L344.1 388.6L345.2 388.2L346.3 387.9L347.3 387.5L348.3 387.2L349.2 387.0L350.1 386.7L351.0 386.5L352.2 386.2L353.3 386.0L354.3 385.7L355.3 385.5L356.3 385.4L357.3 385.2L358.4 385.1L359.5 385.0L360.5 385.0L361.6 385.0L362.6 385.0L363.7 385.1L364.8 385.1L365.9 385.2L367.1 385.3L368.2 385.5L369.3 385.6L370.3 385.8L371.4 385.9L372.5 386.1L373.5 386.2L374.5 386.4L375.6 386.6L376.6 386.8L377.6 387.0L378.6 387.2L379.6 387.5L380.6 387.7L381.6 388.0L382.6 388.3L383.6 388.6L384.7 388.9L385.7 389.3L386.7 389.6L387.7 390.0L388.7 390.3L389.7 390.7L390.8 391.2L391.8 391.6L392.7 392.0L393.6 392.4L394.5 392.9L395.4 393.3L396.4 393.8L397.3 394.3L398.2 394.8L399.1 395.3L400.1 395.8L401.0 396.3L401.9 396.7L402.8 397.2L403.7 397.6L404.7 398.0L405.6 398.5L406.6 398.9L407.5 399.3L408.4 399.7L409.4 400.1L410.3 400.4L411.2 400.8L412.1 401.2L413.1 401.6L414.0 402.0" fill="none" stroke="#141414" stroke-width="1.10" stroke-linejoin="round"/><g clip-path="url(#cMR)" fill="#141414"><circle cx="417.0" cy="272.1" r="2.80"/><circle cx="419.2" cy="268.4" r="2.80"/><circle cx="421.4" cy="264.6" r="2.80"/><circle cx="423.6" cy="260.6" r="2.80"/><circle cx="425.8" cy="256.0" r="2.80"/><circle cx="428.0" cy="251.6" r="2.80"/><circle cx="430.2" cy="247.8" r="2.80"/><circle cx="432.4" cy="244.4" r="2.80"/><circle cx="434.6" cy="242.2" r="2.80"/><circle cx="436.8" cy="240.7" r="2.80"/><circle cx="439.0" cy="240.1" r="2.80"/><circle cx="441.2" cy="241.0" r="2.80"/><circle cx="443.4" cy="243.1" r="2.80"/><circle cx="445.6" cy="245.7" r="2.80"/><circle cx="447.8" cy="249.8" r="2.80"/><circle cx="450.0" cy="255.5" r="2.80"/><circle cx="452.2" cy="262.8" r="2.80"/><circle cx="454.4" cy="270.5" r="2.80"/><circle cx="456.6" cy="278.2" r="2.80"/><circle cx="458.8" cy="284.9" r="2.80"/><circle cx="461.0" cy="291.3" r="2.80"/><circle cx="463.2" cy="297.8" r="2.80"/><circle cx="465.4" cy="303.7" r="2.80"/><circle cx="467.6" cy="308.7" r="2.80"/><circle cx="469.8" cy="313.1" r="2.80"/><circle cx="472.0" cy="317.4" r="2.80"/><circle cx="474.2" cy="321.4" r="2.80"/><circle cx="476.4" cy="324.3" r="2.80"/><circle cx="478.6" cy="326.4" r="2.80"/><circle cx="480.8" cy="327.7" r="2.80"/><circle cx="483.0" cy="328.6" r="2.80"/><circle cx="485.2" cy="328.8" r="2.80"/><circle cx="487.4" cy="328.1" r="2.80"/><circle cx="489.6" cy="326.8" r="2.80"/><circle cx="491.8" cy="324.9" r="2.80"/><circle cx="494.0" cy="322.2" r="2.80"/><circle cx="496.2" cy="319.2" r="2.80"/><circle cx="498.4" cy="316.1" r="2.80"/><circle cx="500.6" cy="312.7" r="2.80"/><circle cx="502.8" cy="309.3" r="2.80"/><circle cx="505.0" cy="306.1" r="2.80"/><circle cx="507.2" cy="303.3" r="2.80"/><circle cx="509.4" cy="300.7" r="2.80"/><circle cx="511.6" cy="298.4" r="2.80"/><circle cx="513.8" cy="296.6" r="2.80"/><circle cx="516.0" cy="295.1" r="2.80"/><circle cx="518.2" cy="293.9" r="2.80"/><circle cx="520.4" cy="293.0" r="2.80"/><circle cx="522.6" cy="292.3" r="2.80"/><circle cx="524.8" cy="292.1" r="2.80"/><circle cx="527.0" cy="292.5" r="2.80"/><circle cx="529.2" cy="293.8" r="2.80"/><circle cx="531.4" cy="295.6" r="2.80"/><circle cx="533.6" cy="297.5" r="2.80"/><circle cx="535.8" cy="299.6" r="2.80"/><circle cx="538.0" cy="301.9" r="2.80"/><circle cx="540.2" cy="304.2" r="2.80"/><circle cx="542.4" cy="306.5" r="2.80"/><circle cx="544.6" cy="308.7" r="2.80"/><circle cx="546.8" cy="310.9" r="2.80"/><circle cx="549.0" cy="313.2" r="2.80"/><circle cx="551.2" cy="315.5" r="2.80"/><circle cx="553.4" cy="317.7" r="2.80"/><circle cx="555.6" cy="319.8" r="2.80"/><circle cx="557.8" cy="321.8" r="2.80"/><circle cx="560.0" cy="323.7" r="2.80"/><circle cx="562.2" cy="325.5" r="2.80"/><circle cx="564.4" cy="327.3" r="2.80"/><circle cx="566.6" cy="329.1" r="2.80"/><circle cx="568.8" cy="330.8" r="2.80"/><circle cx="571.0" cy="332.6" r="2.80"/><circle cx="573.2" cy="334.2" r="2.80"/><circle cx="575.4" cy="335.9" r="2.80"/><circle cx="577.6" cy="337.7" r="2.80"/><circle cx="579.8" cy="339.8" r="2.80"/><circle cx="582.0" cy="342.3" r="2.80"/><circle cx="584.2" cy="345.2" r="2.80"/><circle cx="586.4" cy="348.2" r="2.80"/><circle cx="588.6" cy="351.2" r="2.80"/><circle cx="590.8" cy="354.4" r="2.80"/><circle cx="593.0" cy="357.7" r="2.80"/><circle cx="595.2" cy="361.1" r="2.80"/><circle cx="597.4" cy="364.8" r="2.80"/><circle cx="599.6" cy="368.6" r="2.80"/><circle cx="601.8" cy="372.5" r="2.80"/><circle cx="604.0" cy="376.4" r="2.80"/><circle cx="606.2" cy="380.6" r="2.80"/><circle cx="608.4" cy="384.8" r="2.80"/><circle cx="610.6" cy="388.5" r="2.80"/><circle cx="612.8" cy="391.4" r="2.80"/><circle cx="615.0" cy="393.9" r="2.80"/><circle cx="617.2" cy="396.0" r="2.80"/><circle cx="619.4" cy="397.8" r="2.80"/><circle cx="621.6" cy="399.4" r="2.80"/><circle cx="623.8" cy="400.8" r="2.80"/><circle cx="626.0" cy="401.9" r="2.80"/><circle cx="628.2" cy="402.8" r="2.80"/><circle cx="630.4" cy="403.6" r="2.80"/><circle cx="632.6" cy="404.3" r="2.80"/><circle cx="634.8" cy="405.0" r="2.80"/><circle cx="637.0" cy="405.5" r="2.80"/><circle cx="639.2" cy="406.0" r="2.80"/><circle cx="641.4" cy="406.3" r="2.80"/><circle cx="643.6" cy="406.5" r="2.80"/><circle cx="645.8" cy="406.6" r="2.80"/><circle cx="648.0" cy="406.5" r="2.80"/><circle cx="650.2" cy="406.3" r="2.80"/><circle cx="652.4" cy="406.0" r="2.80"/><circle cx="654.6" cy="405.7" r="2.80"/><circle cx="656.8" cy="405.3" r="2.80"/><circle cx="659.0" cy="405.0" r="2.80"/><circle cx="661.2" cy="404.6" r="2.80"/><circle cx="663.4" cy="404.2" r="2.80"/><circle cx="665.6" cy="403.8" r="2.80"/><circle cx="667.8" cy="403.3" r="2.80"/><circle cx="670.0" cy="402.8" r="2.80"/><circle cx="672.2" cy="402.4" r="2.80"/><circle cx="674.4" cy="401.9" r="2.80"/><circle cx="676.6" cy="401.6" r="2.80"/><circle cx="678.8" cy="401.2" r="2.80"/><circle cx="681.0" cy="400.8" r="2.80"/><circle cx="683.2" cy="400.4" r="2.80"/><circle cx="685.4" cy="400.1" r="2.80"/><circle cx="687.6" cy="399.8" r="2.80"/><circle cx="689.8" cy="399.5" r="2.80"/><circle cx="692.0" cy="399.3" r="2.80"/><circle cx="694.2" cy="399.1" r="2.80"/><circle cx="696.4" cy="399.0" r="2.80"/><circle cx="698.6" cy="398.9" r="2.80"/><circle cx="700.8" cy="399.0" r="2.80"/><circle cx="703.0" cy="399.1" r="2.80"/><circle cx="705.2" cy="399.3" r="2.80"/><circle cx="707.4" cy="399.6" r="2.80"/><circle cx="709.6" cy="400.0" r="2.80"/><circle cx="711.8" cy="400.4" r="2.80"/><circle cx="714.0" cy="400.9" r="2.80"/><circle cx="716.2" cy="401.4" r="2.80"/><circle cx="718.4" cy="402.0" r="2.80"/><circle cx="720.6" cy="402.6" r="2.80"/><circle cx="722.8" cy="403.3" r="2.80"/><circle cx="725.0" cy="404.0" r="2.80"/><circle cx="727.2" cy="404.7" r="2.80"/><circle cx="729.4" cy="405.5" r="2.80"/><circle cx="731.6" cy="406.2" r="2.80"/></g><path clip-path="url(#cMR)" d="M417.0 280.0L417.3 279.0L417.6 278.0L417.9 277.0L418.1 276.0L418.4 275.0L418.7 274.1L419.0 273.1L419.3 272.0L419.6 271.0L420.0 270.0L420.3 269.1L420.7 268.2L421.0 267.3L421.4 266.3L421.8 265.4L422.2 264.4L422.6 263.5L423.0 262.6L423.4 261.6L423.8 260.7L424.2 259.8L424.6 258.9L425.0 258.0L425.4 257.0L425.9 256.1L426.3 255.1L426.7 254.2L427.2 253.2L427.6 252.3L428.1 251.4L428.5 250.5L429.0 249.6L429.5 248.8L430.0 248.0L430.7 247.0L431.4 246.0L432.1 245.1L432.8 244.2L433.5 243.4L434.2 242.6L435.0 242.0L436.0 241.2L437.1 240.6L438.2 240.2L439.3 240.1L440.1 240.3L440.9 240.8L441.7 241.4L442.5 242.1L443.3 242.9L444.1 243.8L444.8 244.7L445.3 245.4L445.8 246.2L446.3 247.0L446.7 247.9L447.1 248.8L447.6 249.7L448.0 250.7L448.4 251.7L448.8 252.7L449.2 253.8L449.6 254.9L450.0 256.0L450.3 256.8L450.6 257.7L450.9 258.5L451.2 259.4L451.5 260.3L451.8 261.3L452.0 262.2L452.3 263.2L452.6 264.2L452.9 265.2L453.2 266.2L453.4 267.2L453.7 268.2L454.0 269.2L454.3 270.2L454.6 271.3L454.9 272.3L455.1 273.3L455.4 274.3L455.7 275.3L456.0 276.3L456.3 277.2L456.6 278.2L456.9 279.2L457.2 280.2L457.6 281.2L457.9 282.3L458.2 283.3L458.5 284.3L458.9 285.3L459.2 286.4L459.5 287.4L459.8 288.4L460.2 289.4L460.5 290.4L460.8 291.4L461.2 292.4L461.5 293.3L461.8 294.3L462.1 295.2L462.5 296.1L462.8 297.0L463.1 297.9L463.4 298.7L463.8 299.8L464.2 300.8L464.6 301.8L465.0 302.7L465.4 303.6L465.7 304.5L466.1 305.4L466.5 306.3L466.9 307.2L467.3 308.1L467.8 309.0L468.2 310.0L468.6 310.9L469.1 311.8L469.6 312.8L470.0 313.7L470.5 314.7L471.0 315.7L471.5 316.6L472.0 317.6L472.5 318.5L473.0 319.5L473.5 320.4L474.0 321.3L474.5 322.2L474.9 323.0L475.4 324.0L476.0 325.1L476.5 326.1L477.0 327.1L477.4 328.0L477.9 329.0L478.4 329.9L479.0 330.8L479.5 331.6L480.1 332.5L480.7 333.3L481.3 334.2L482.0 334.9L482.6 335.7L483.3 336.4L484.0 337.0L484.9 337.8L485.8 338.5L486.8 339.1L487.8 339.6L488.7 339.8L489.8 339.7L490.9 339.3L491.9 338.7L493.0 338.0L493.8 337.4L494.6 336.8L495.3 336.1L496.1 335.3L496.9 334.4L497.8 333.4L498.3 332.8L498.9 332.2L499.4 331.5L500.0 330.7L500.6 330.0L501.2 329.2L501.8 328.4L502.4 327.5L503.1 326.6L503.7 325.8L504.3 324.9L505.0 324.0L505.6 323.1L506.3 322.2L506.9 321.3L507.6 320.5L508.2 319.6L508.8 318.8L509.4 318.0L510.0 317.1L510.6 316.3L511.2 315.5L511.9 314.6L512.5 313.8L513.1 312.9L513.7 312.0L514.3 311.2L514.9 310.4L515.5 309.5L516.1 308.7L516.8 307.9L517.4 307.1L518.0 306.3L518.6 305.6L519.2 304.8L519.8 304.1L520.6 303.2L521.3 302.3L522.1 301.4L522.9 300.6L523.6 299.7L524.4 298.9L525.2 298.1L525.9 297.4L526.7 296.7L527.4 296.1L528.2 295.5L528.9 295.0L529.9 294.4L531.0 294.0L532.0 293.7L533.0 293.4L534.0 293.2L535.0 293.0L536.1 292.8L537.1 292.7L538.1 292.6L539.2 292.6L540.4 292.7L541.2 292.8L542.0 293.0L542.9 293.2L543.9 293.5L544.8 293.8L545.8 294.1L546.8 294.5L547.9 294.9L548.9 295.3L549.9 295.8L550.8 296.2L551.8 296.8L552.7 297.3L553.5 297.8L554.3 298.4L555.1 299.0L556.0 299.6L556.8 300.3L557.6 301.0L558.4 301.7L559.1 302.4L559.9 303.2L560.7 304.0L561.4 304.7L562.1 305.5L562.9 306.3L563.6 307.1L564.2 307.8L564.9 308.6L565.6 309.4L566.2 310.2L566.9 311.1L567.5 311.9L568.1 312.8L568.7 313.6L569.3 314.5L569.8 315.4L570.4 316.3L570.9 317.2L571.5 318.1L572.0 319.0L572.6 319.9L573.1 320.8L573.6 321.7L574.1 322.6L574.6 323.6L575.1 324.5L575.6 325.4L576.0 326.4L576.5 327.4L577.0 328.3L577.4 329.3L577.9 330.3L578.3 331.2L578.8 332.2L579.3 333.2L579.7 334.1L580.2 335.1L580.7 336.1L581.1 337.0L581.6 338.0L582.1 339.0L582.5 339.9L583.0 340.9L583.4 341.9L583.9 342.8L584.4 343.8L584.8 344.8L585.3 345.7L585.8 346.6L586.3 347.6L586.8 348.5L587.3 349.4L587.8 350.3L588.4 351.2L589.0 352.1L589.6 353.0L590.1 353.8L590.7 354.7L591.3 355.5L591.9 356.4L592.5 357.2L593.1 358.1L593.7 358.9L594.3 359.8L594.9 360.7L595.5 361.6L596.0 362.5L596.5 363.3L597.1 364.2L597.6 365.1L598.1 366.0L598.6 366.9L599.1 367.8L599.6 368.7L600.1 369.6L600.7 370.5L601.2 371.4L601.7 372.3L602.2 373.2L602.7 374.1L603.2 375.0L603.7 375.9L604.2 376.8L604.7 377.7L605.2 378.6L605.7 379.6L606.2 380.5L606.6 381.5L607.1 382.4L607.6 383.3L608.1 384.3L608.6 385.2L609.1 386.1L609.6 386.9L610.1 387.8L610.7 388.6L611.2 389.4L611.8 390.2L612.5 391.1L613.2 391.9L613.9 392.7L614.7 393.5L615.5 394.3L616.2 395.1L617.0 395.8L617.8 396.5L618.6 397.2L619.4 397.8L620.2 398.4L621.0 399.0L621.9 399.6L622.8 400.2L623.7 400.7L624.6 401.2L625.5 401.7L626.5 402.1L627.4 402.5L628.4 402.9L629.5 403.3L630.4 403.6L631.3 403.9L632.2 404.2L633.2 404.5L634.2 404.8L635.2 405.1L636.2 405.3L637.3 405.6L638.3 405.8L639.4 406.0L640.4 406.2L641.5 406.3L642.6 406.4L643.6 406.5L644.6 406.5L645.7 406.5L646.7 406.5L647.7 406.5L648.8 406.4L649.8 406.3L650.9 406.1L652.0 406.0L653.0 405.9L654.1 405.7L655.2 405.5L656.2 405.4L657.3 405.2L658.3 405.0L659.4 404.9L660.4 404.8L661.4 404.6L662.4 404.4L663.5 404.2L664.5 404.0L665.6 403.8L666.6 403.6L667.6 403.4L668.7 403.2L669.7 403.0L670.7 402.8L671.6 402.7L672.6 402.5L673.5 402.4L674.4 402.4L675.2 402.3L676.4 402.3L677.5 402.3L678.6 402.3L679.6 402.4L680.7 402.5L681.8 402.7L683.0 402.9L683.8 403.1L684.7 403.2L685.6 403.4L686.6 403.6L687.6 403.9L688.6 404.1L689.6 404.4L690.6 404.7L691.6 405.0L692.7 405.3L693.7 405.6L694.8 405.9L695.8 406.3L696.8 406.6L697.8 406.9L698.8 407.3L699.7 407.7L700.7 408.0L701.6 408.4L702.5 408.9L703.5 409.3L704.4 409.7L705.3 410.2L706.2 410.7L707.1 411.1L708.1 411.6L709.0 412.0L709.9 412.5L710.8 412.9L711.8 413.3L712.7 413.7L713.6 414.1L714.6 414.4L715.6 414.7L716.6 415.0L717.6 415.3L718.7 415.6L719.7 415.8L720.7 416.1L721.8 416.3L722.8 416.5L723.8 416.8L724.9 417.0L725.9 417.2L727.0 417.4L728.0 417.6L729.0 417.8L730.1 418.1L731.1 418.3" fill="none" stroke="#141414" stroke-width="1.10" stroke-linejoin="round"/><g fill="#141414"><circle cx="106.2" cy="499.2" r="4.60"/><circle cx="114.7" cy="497.8" r="4.60"/><circle cx="122.9" cy="502.9" r="4.60"/><circle cx="131.0" cy="497.3" r="4.60"/><circle cx="139.2" cy="502.9" r="4.60"/><circle cx="147.3" cy="514.8" r="4.60"/><circle cx="155.5" cy="524.0" r="4.60"/><circle cx="163.6" cy="533.8" r="4.60"/><circle cx="171.8" cy="535.8" r="4.60"/><circle cx="180.1" cy="532.6" r="4.60"/><circle cx="188.3" cy="542.6" r="4.60"/><circle cx="196.3" cy="557.4" r="4.60"/><circle cx="204.3" cy="563.3" r="4.60"/><circle cx="212.6" cy="560.9" r="4.60"/><circle cx="220.9" cy="547.2" r="4.60"/><circle cx="229.1" cy="527.0" r="4.60"/><circle cx="237.4" cy="503.0" r="4.60"/><circle cx="245.2" cy="492.4" r="4.60"/><circle cx="253.6" cy="490.9" r="4.60"/><circle cx="261.5" cy="473.7" r="4.60"/><circle cx="269.8" cy="470.6" r="4.60"/><circle cx="277.9" cy="489.6" r="4.60"/><circle cx="286.0" cy="502.9" r="4.60"/><circle cx="294.3" cy="503.1" r="4.60"/><circle cx="302.4" cy="488.9" r="4.60"/><circle cx="310.4" cy="491.8" r="4.60"/><circle cx="318.7" cy="490.1" r="4.60"/><circle cx="326.8" cy="482.3" r="4.60"/><circle cx="334.9" cy="488.9" r="4.60"/><circle cx="343.2" cy="491.4" r="4.60"/><circle cx="351.3" cy="490.1" r="4.60"/><circle cx="359.3" cy="482.3" r="4.60"/><circle cx="367.7" cy="498.0" r="4.60"/><circle cx="375.7" cy="495.8" r="4.60"/><circle cx="383.8" cy="501.1" r="4.60"/><circle cx="392.1" cy="503.6" r="4.60"/><circle cx="400.2" cy="504.8" r="4.60"/><circle cx="408.3" cy="503.6" r="4.60"/></g><path clip-path="url(#cBL)" d="M99.0 500.6L138.0 501.5L143.2 502.4L151.4 502.4L154.8 505.1L160.2 508.8L162.9 509.9L168.4 515.6L172.4 520.8L176.5 528.2L182.0 537.1L188.8 546.6L194.2 553.4L199.0 558.5L203.7 561.7L208.0 561.5L212.4 558.5L218.9 548.7L227.6 531.3L234.1 516.1L242.8 500.9L249.8 488.9L259.6 476.7L266.0 470.0L271.8 466.9L284.0 466.9L293.8 473.7L303.6 481.6L313.4 487.7L323.1 496.2L331.7 498.2L340.3 498.2L342.7 500.2L416.0 500.2" fill="none" stroke="#141414" stroke-width="1.10" stroke-linejoin="round"/><g fill="#141414"><circle cx="423.9" cy="474.6" r="4.70"/><circle cx="432.2" cy="482.1" r="4.70"/><circle cx="440.4" cy="484.2" r="4.70"/><circle cx="448.7" cy="475.4" r="4.70"/><circle cx="456.7" cy="474.6" r="4.70"/><circle cx="464.8" cy="489.0" r="4.70"/><circle cx="472.8" cy="506.7" r="4.70"/><circle cx="480.8" cy="517.6" r="4.70"/><circle cx="489.1" cy="532.6" r="4.70"/><circle cx="497.3" cy="552.6" r="4.70"/><circle cx="505.4" cy="580.9" r="4.70"/><circle cx="513.6" cy="605.7" r="4.70"/><circle cx="521.6" cy="590.5" r="4.70"/><circle cx="529.9" cy="541.6" r="4.70"/><circle cx="537.9" cy="503.7" r="4.70"/><circle cx="546.2" cy="489.8" r="4.70"/><circle cx="554.3" cy="477.1" r="4.70"/><circle cx="562.5" cy="463.0" r="4.70"/><circle cx="571.0" cy="454.6" r="4.70"/><circle cx="579.1" cy="448.6" r="4.70"/><circle cx="587.4" cy="445.3" r="4.70"/><circle cx="595.5" cy="449.6" r="4.70"/><circle cx="603.6" cy="460.4" r="4.70"/><circle cx="611.7" cy="473.1" r="4.70"/><circle cx="619.7" cy="485.7" r="4.70"/><circle cx="627.8" cy="496.6" r="4.70"/><circle cx="635.9" cy="525.6" r="4.70"/><circle cx="644.0" cy="523.6" r="4.70"/><circle cx="652.4" cy="521.6" r="4.70"/><circle cx="660.4" cy="519.3" r="4.70"/><circle cx="668.5" cy="519.8" r="4.70"/><circle cx="676.9" cy="523.1" r="4.70"/><circle cx="685.2" cy="520.6" r="4.70"/><circle cx="693.3" cy="512.2" r="4.70"/><circle cx="701.4" cy="503.9" r="4.70"/><circle cx="709.5" cy="498.8" r="4.70"/><circle cx="717.8" cy="499.6" r="4.70"/><circle cx="726.1" cy="502.1" r="4.70"/></g><path clip-path="url(#cBR)" d="M416.0 500.2L451.4 500.2L455.0 501.0L458.1 503.5L467.4 507.5L475.4 516.8L482.1 528.8L488.8 544.8L495.5 566.2L502.1 586.2L508.8 602.3L513.0 610.0L515.5 611.6L519.5 611.6L524.8 603.6L531.5 584.9L538.2 555.5L544.9 523.5L551.6 488.8L556.0 466.0L560.1 450.3L565.2 432.6L569.0 427.0L572.7 424.5L576.5 424.5L582.9 432.6L590.4 447.8L598.0 465.5L605.6 483.2L613.2 494.6L620.8 500.9L624.5 502.6L632.1 502.6L634.7 504.7L637.2 502.6L657.4 502.6L659.2 500.9L712.0 500.9" fill="none" stroke="#141414" stroke-width="1.10" stroke-linejoin="round"/>
<g font-family="Liberation Serif" font-size="18" fill="#1a1a1a" stroke="#1a1a1a" stroke-width="0.25"><text transform="translate(84.6 218.0) scale(1.140 1)" text-anchor="end" font-size="18.0">0</text><text transform="translate(84.6 189.8) scale(1.140 1)" text-anchor="end" font-size="18.0">20</text><text transform="translate(84.6 161.7) scale(1.140 1)" text-anchor="end" font-size="18.0">40</text><text transform="translate(84.6 133.5) scale(1.140 1)" text-anchor="end" font-size="18.0">60</text><text transform="translate(84.6 105.3) scale(1.140 1)" text-anchor="end" font-size="18.0">80</text><text transform="translate(84.6 77.1) scale(1.140 1)" text-anchor="end" font-size="18.0">100</text><text transform="translate(84.6 49.0) scale(1.140 1)" text-anchor="end" font-size="18.0">120</text><text transform="translate(84.6 20.8) scale(1.140 1)" text-anchor="end" font-size="18.0">140</text><text transform="translate(84.6 390.7) scale(1.140 1)" text-anchor="end" font-size="18.0">200</text><text transform="translate(84.6 352.5) scale(1.140 1)" text-anchor="end" font-size="18.0">400</text><text transform="translate(84.6 314.2) scale(1.140 1)" text-anchor="end" font-size="18.0">600</text><text transform="translate(84.6 275.9) scale(1.140 1)" text-anchor="end" font-size="18.0">800</text><text transform="translate(84.6 237.6) scale(1.090 1)" text-anchor="end" font-size="18.0">1000</text><text transform="translate(84.6 429.0) scale(1.140 1)" text-anchor="end" font-size="18.0">0</text><text transform="translate(85.9 638.8) scale(1.000 1)" text-anchor="end" font-size="15.0">-0.06</text><text transform="translate(85.9 594.4) scale(1.000 1)" text-anchor="end" font-size="15.0">-0.04</text><text transform="translate(85.9 550.0) scale(1.000 1)" text-anchor="end" font-size="15.0">-0.02</text><text transform="translate(85.9 505.6) scale(1.000 1)" text-anchor="end" font-size="15.0">0.00</text><text transform="translate(85.9 461.2) scale(1.000 1)" text-anchor="end" font-size="15.0">0.02</text><text transform="translate(140.8 664.9) scale(1.120 1)" text-anchor="middle" font-size="17.6">1620</text><text transform="translate(204.3 664.9) scale(1.120 1)" text-anchor="middle" font-size="17.6">1650</text><text transform="translate(267.8 664.9) scale(1.120 1)" text-anchor="middle" font-size="17.6">1680</text><text transform="translate(331.3 664.9) scale(1.120 1)" text-anchor="middle" font-size="17.6">1710</text><text transform="translate(394.8 664.9) scale(1.120 1)" text-anchor="middle" font-size="17.6">1740</text><text transform="translate(457.9 664.9) scale(1.120 1)" text-anchor="middle" font-size="17.6">1620</text><text transform="translate(521.4 664.9) scale(1.120 1)" text-anchor="middle" font-size="17.6">1650</text><text transform="translate(584.9 664.9) scale(1.120 1)" text-anchor="middle" font-size="17.6">1680</text><text transform="translate(648.4 664.9) scale(1.120 1)" text-anchor="middle" font-size="17.6">1710</text><text transform="translate(711.9 664.9) scale(1.120 1)" text-anchor="middle" font-size="17.6">1740</text></g>
<g font-family="Liberation Serif" font-weight="bold" fill="#111" stroke="#111" stroke-width="0.45"><text x="112" y="32" font-size="24.3" textLength="59.7" lengthAdjust="spacingAndGlyphs">GRRG</text><text x="429.7" y="32.4" font-size="24.3" textLength="75.3" lengthAdjust="spacingAndGlyphs">GRRRG</text><text transform="translate(37.6 105.3) rotate(-90)" text-anchor="middle" font-size="24.8" textLength="176" lengthAdjust="spacingAndGlyphs">Raman Intensity</text><g transform="translate(27.2 0.0) rotate(-90)"><text x="-377.6" y="0" font-size="27" textLength="41.8" lengthAdjust="spacingAndGlyphs">&#949;[M</text><text x="-334" y="-13.9" font-size="16">-1</text><text x="-317" y="0" font-size="27" textLength="34.3" lengthAdjust="spacingAndGlyphs">cm</text><text x="-281.5" y="-13.9" font-size="16">-1</text><text x="-265.2" y="0" font-size="27">]</text></g><g transform="translate(35.3 203.1) rotate(-90)"><text x="-394.6" y="0" font-size="27" textLength="14.6" lengthAdjust="spacingAndGlyphs">&#916;</text><text x="-377.6" y="0" font-size="27" textLength="41.8" lengthAdjust="spacingAndGlyphs">&#949;[M</text><text x="-334" y="-13.9" font-size="16">-1</text><text x="-317" y="0" font-size="27" textLength="34.3" lengthAdjust="spacingAndGlyphs">cm</text><text x="-281.5" y="-13.9" font-size="16">-1</text><text x="-265.2" y="0" font-size="27">]</text></g><text x="292" y="706.5" font-size="27" textLength="162" lengthAdjust="spacingAndGlyphs">Wavenumber</text><text x="461.7" y="706.5" font-size="27" textLength="42.3" lengthAdjust="spacingAndGlyphs">[cm</text><text x="505.8" y="694.6" font-size="17">-1</text><text x="522" y="706.5" font-size="27">]</text></g>
</svg>
</body></html>
